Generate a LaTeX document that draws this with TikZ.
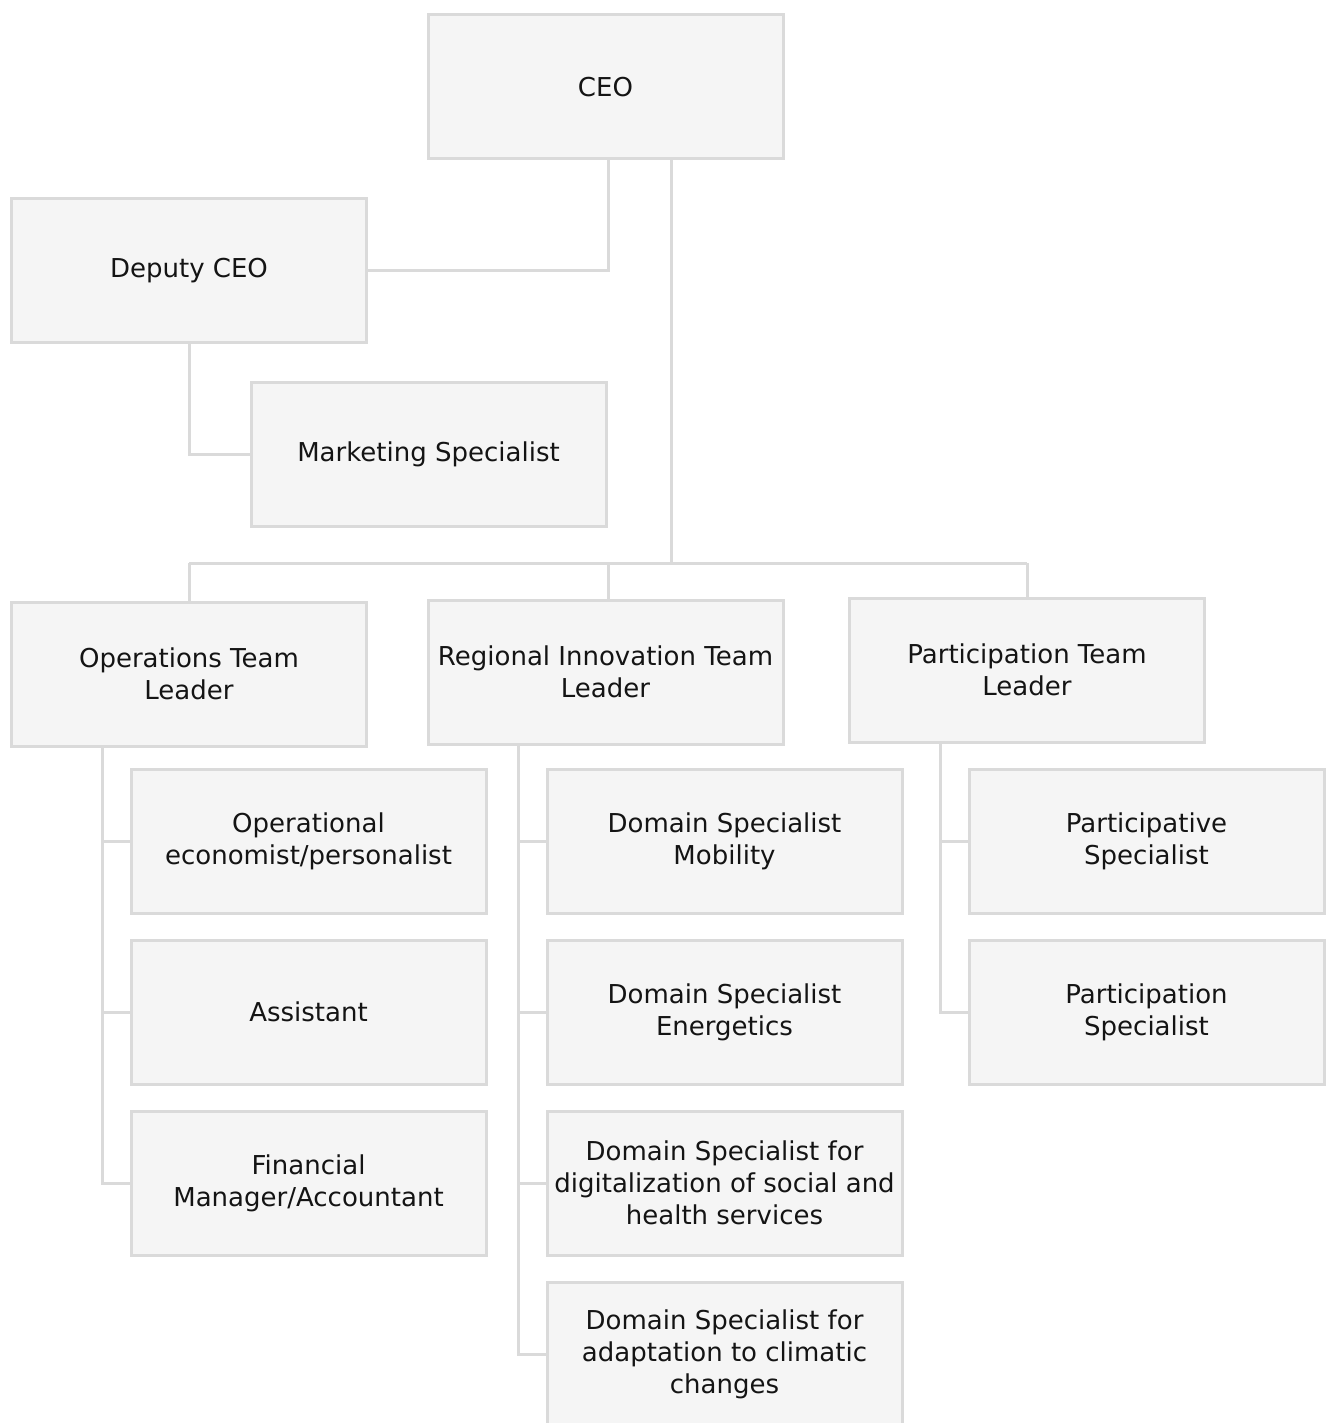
\documentclass[tikz,border=0pt]{standalone}
\usepackage{fontspec}
\setmainfont{DejaVu Sans}
\definecolor{lineGray}{HTML}{DADADA}
\definecolor{boxFill}{HTML}{F5F5F5}
\definecolor{textBlack}{HTML}{141414}
\begin{document}
\begin{tikzpicture}[x=1pt,y=-1pt,
  box/.style={draw=lineGray, fill=boxFill, line width=3pt, minimum width=355pt, minimum height=144pt,
    align=center, inner sep=0pt, text=textBlack, font=\fontsize{26}{32}\selectfont},
  conn/.style={draw=lineGray, line width=3pt}]
\fill[white] (0,0) rectangle (1327,1423);
\useasboundingbox (0,0) rectangle (1327,1423);

\node[box] (ceo) at (605.5,87) {CEO};
\node[box] (dep) at (189,270.5) {Deputy CEO};
\node[box] (mkt) at (428.5,454) {Marketing Specialist};
\node[box] (ops) at (189,674) {Operations Team\\Leader};
\node[box] (reg) at (605.5,672) {Regional Innovation Team\\Leader};
\node[box] (par) at (1027,670) {Participation Team\\Leader};

\node[box] (oe) at (308.5,841) {Operational\\economist/personalist};
\node[box] (as) at (308.5,1012) {Assistant};
\node[box] (fm) at (308.5,1183) {Financial\\Manager/Accountant};

\node[box] (dm) at (724.5,841) {Domain Specialist\\Mobility};
\node[box] (de) at (724.5,1012) {Domain Specialist\\Energetics};
\node[box] (dd) at (724.5,1183) {Domain Specialist for\\digitalization of social and\\health services};
\node[box] (dc) at (724.5,1354) {Domain Specialist for\\adaptation to climatic\\changes};

\node[box] (pa) at (1146.5,841) {Participative\\Specialist};
\node[box] (ps) at (1146.5,1012) {Participation\\Specialist};

\coordinate (busL) at (189,563);
\coordinate (busR) at (1027,563);

\draw[conn] ([xshift=2.5]ceo.south) |- (dep.east);
\draw[conn] ([xshift=65.5]ceo.south) -- ([xshift=65.5]ceo.south |- busL);
\draw[conn] (busL) -- (busR);
\draw[conn] (ops.north |- busL) -- (ops.north);
\draw[conn] ([xshift=2.5]reg.north |- busL) -- ([xshift=2.5]reg.north);
\draw[conn] (par.north |- busR) -- (par.north);
\draw[conn] (dep.south) |- (mkt.west);

\draw[conn] ([xshift=-87]ops.south) |- (oe.west);
\draw[conn] ([xshift=-87]ops.south) |- (as.west);
\draw[conn] ([xshift=-87]ops.south) |- (fm.west);

\draw[conn] ([xshift=-87.5]reg.south) |- (dm.west);
\draw[conn] ([xshift=-87.5]reg.south) |- (de.west);
\draw[conn] ([xshift=-87.5]reg.south) |- (dd.west);
\draw[conn] ([xshift=-87.5]reg.south) |- (dc.west);

\draw[conn] ([xshift=-87]par.south) |- (pa.west);
\draw[conn] ([xshift=-87]par.south) |- (ps.west);
\end{tikzpicture}
\end{document}
